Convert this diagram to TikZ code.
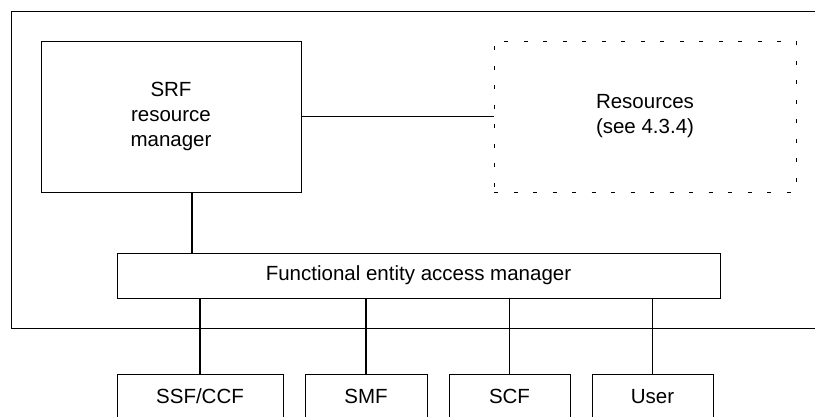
\documentclass[tikz,border=0pt]{standalone}
\usepackage{fontspec}
\setmainfont{Liberation Sans}
\begin{document}
\begin{tikzpicture}[x=1pt,y=-1pt,
  box/.style={draw, line width=0.9pt, inner sep=0pt, align=center, font=\fontsize{20.5}{25}\selectfont},
  dbox/.style={draw, line width=0.9pt, dash pattern=on 4pt off 15.5pt, inner sep=0pt, align=center, font=\fontsize{20.5}{25}\selectfont},
  conn/.style={line width=1.7pt}]
\clip (0,0) rectangle (815,417);
\fill[white] (0,0) rectangle (815,417);
% outer frame (open at the right)
\draw[line width=0.9pt] (830,11) -- (11,11) -- (11,328) -- (830,328);
\node[box, minimum width=260pt, minimum height=151pt] (srf) at (171,116.5) {SRF\\resource\\manager};
\node[dbox, minimum width=302pt, minimum height=151pt] (res) at (645,116.5) {Resources\\(see 4.3.4)};
\node[box, minimum width=603pt, minimum height=45pt] (feam) at (418.5,275.5) {Functional entity access manager};
\node[box, minimum width=166pt, minimum height=45pt] (ssf) at (200,396.5) {SSF/CCF};
\node[box, minimum width=122pt, minimum height=45pt] (smf) at (366,396.5) {SMF};
\node[box, minimum width=121pt, minimum height=45pt] (scf) at (509.5,396.5) {SCF};
\node[box, minimum width=121pt, minimum height=45pt] (usr) at (652.5,396.5) {User};
\draw[conn] (srf.east) -- (res.west);
\draw[conn] ([xshift=21pt]srf.south) -- ([xshift=21pt]srf.south |- feam.north);
\foreach \n in {ssf,smf,scf,usr}
  \draw[conn] (\n.north) -- (\n.north |- feam.south);
\end{tikzpicture}
\end{document}
